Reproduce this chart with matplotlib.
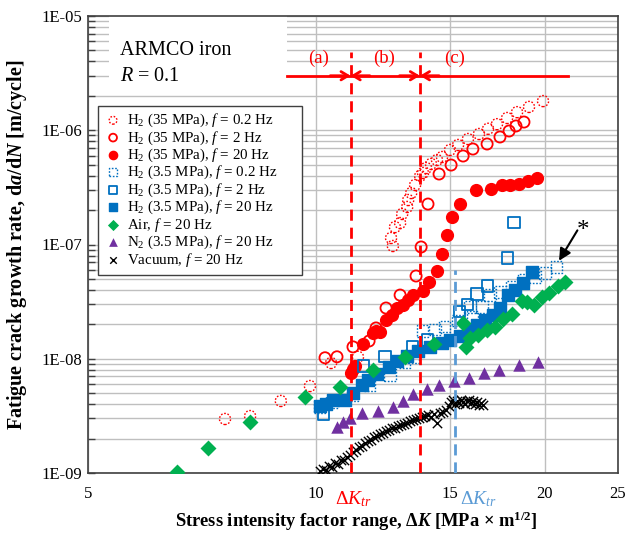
import matplotlib
matplotlib.use("Agg")
import matplotlib.pyplot as plt
from matplotlib.ticker import FixedLocator, NullLocator, FuncFormatter, LogLocator
from matplotlib.patches import Rectangle
import numpy as np

plt.rcParams['font.family'] = ['Liberation Serif', 'DejaVu Serif']
plt.rcParams['mathtext.fontset'] = 'custom'
plt.rcParams['mathtext.rm'] = 'Liberation Serif'
plt.rcParams['mathtext.it'] = 'Liberation Serif:italic'
plt.rcParams['mathtext.bf'] = 'Liberation Serif:bold'
plt.rcParams['mathtext.bfit'] = 'Liberation Serif:italic:bold'

# H2 35 MPa
h2_35_f02_dk = [7.58, 8.18, 8.98, 9.81, 10.46, 11.35, 12.55, 12.62, 12.70, 12.90, 12.98, 13.18, 13.22, 13.34, 13.50,
                13.71, 13.83, 13.96, 14.17, 14.43, 14.65, 15.01, 15.38, 15.85, 16.39, 16.85, 17.31, 17.85, 18.40, 19.08, 19.91]
h2_35_f02_rate = [2.97e-9, 3.15e-9, 4.27e-9, 5.77e-9, 9.18e-9, 1.04e-8, 1.14e-7, 9.70e-8, 1.42e-7, 1.54e-7, 1.85e-7,
                  2.13e-7, 2.45e-7, 2.82e-7, 3.32e-7, 3.98e-7, 4.23e-7, 4.67e-7, 5.07e-7, 5.49e-7, 5.83e-7, 6.72e-7,
                  7.43e-7, 8.38e-7, 9.27e-7, 1.03e-6, 1.13e-6, 1.28e-6, 1.44e-6, 1.60e-6, 1.80e-6]

h2_35_f2_dk = [10.27, 10.65, 11.18, 11.74, 11.99, 12.36, 12.90, 13.54, 13.75, 14.04, 14.52, 15.06, 15.62, 16.09,
               16.80, 17.47, 17.96, 18.34, 18.79]
h2_35_f2_rate = [1.02e-8, 1.04e-8, 1.27e-8, 1.43e-8, 1.86e-8, 2.78e-8, 3.61e-8, 5.30e-8, 9.51e-8, 2.26e-7, 4.14e-7,
                 4.96e-7, 5.95e-7, 6.85e-7, 7.58e-7, 8.73e-7, 9.85e-7, 1.09e-6, 1.18e-6]

h2_35_f20_dk = [11.11, 11.18, 11.25, 11.53, 11.88, 11.99, 12.14, 12.36, 12.58, 12.78, 13.01, 13.22, 13.42, 13.83,
                14.08, 14.43, 14.65, 14.87, 15.10, 15.47, 16.24, 17.00, 17.58, 18.01, 18.51, 19.02, 19.55]
h2_35_f20_rate = [7.50e-9, 8.13e-9, 8.64e-9, 1.35e-8, 1.68e-8, 1.75e-8, 1.71e-8, 2.18e-8, 2.42e-8, 2.78e-8, 2.95e-8,
                  3.27e-8, 3.61e-8, 3.92e-8, 4.70e-8, 5.86e-8, 8.26e-8, 1.21e-7, 1.74e-7, 2.26e-7, 3.00e-7, 3.06e-7,
                  3.32e-7, 3.32e-7, 3.39e-7, 3.60e-7, 3.82e-7]

# H2 3.5 MPa
h2_3p5_f02_dk = [10.11, 10.49, 11.15, 11.77, 12.51, 13.09, 13.42, 13.79, 14.34, 14.78, 15.38, 15.95, 16.09, 16.54,
                 16.95, 17.47, 18.12, 18.74, 19.43, 20.03, 20.72]
h2_3p5_f02_rate = [3.78e-9, 4.18e-9, 4.82e-9, 5.89e-9, 7.21e-9, 9.37e-9, 1.02e-8, 1.75e-8, 1.79e-8, 1.90e-8, 2.18e-8,
                   2.84e-8, 2.32e-8, 2.84e-8, 3.61e-8, 3.84e-8, 4.25e-8, 4.94e-8, 5.19e-8, 5.63e-8, 6.35e-8]

h2_3p5_f2_dk = [10.21, 11.53, 12.32, 13.38, 14.00, 15.47, 15.81, 16.29, 16.80, 17.85, 18.23]
h2_3p5_f2_rate = [3.28e-9, 8.64e-9, 1.04e-8, 1.27e-8, 1.46e-8, 2.57e-8, 3.01e-8, 3.69e-8, 4.33e-8, 7.62e-8, 1.57e-7]

h2_3p5_f20_dk = [10.11, 10.30, 10.52, 10.91, 11.18, 11.49, 11.70, 12.03, 12.47, 12.78, 13.18, 13.62, 14.13, 14.65,
                 15.01, 15.47, 15.95, 16.29, 16.69, 17.11, 17.47, 17.90, 18.29, 18.74, 19.25]
h2_3p5_f20_rate = [3.86e-9, 4.02e-9, 4.36e-9, 4.36e-9, 5.01e-9, 5.89e-9, 6.52e-9, 7.35e-9, 8.47e-9, 9.55e-9, 1.06e-8,
                   1.17e-8, 1.27e-8, 1.37e-8, 1.46e-8, 1.58e-8, 1.79e-8, 1.97e-8, 2.18e-8, 2.42e-8, 2.78e-8, 3.61e-8,
                   4.00e-8, 4.61e-8, 5.74e-8]

air_dk = [6.55, 7.20, 8.18, 9.66, 10.75, 11.88, 13.09, 14.30, 15.62, 15.76, 15.95, 16.34, 16.80, 17.21, 17.63, 18.12,
          18.68, 18.97, 19.37, 19.85, 20.28, 20.84, 21.29]
air_rate = [1.02e-9, 1.66e-9, 2.79e-9, 4.63e-9, 5.66e-9, 7.97e-9, 1.04e-8, 1.35e-8, 2.06e-8, 1.27e-8, 1.52e-8,
            1.61e-8, 1.79e-8, 1.90e-8, 2.23e-8, 2.46e-8, 3.20e-8, 3.14e-8, 2.95e-8, 3.47e-8, 3.77e-8, 4.33e-8, 4.70e-8]

n2_dk = [10.65, 10.85, 11.08, 11.49, 12.06, 12.62, 13.01, 13.42, 14.00, 14.52, 15.19, 15.90, 16.64, 17.42, 18.51, 19.61]
n2_rate = [2.53e-9, 2.79e-9, 3.03e-9, 3.35e-9, 3.49e-9, 3.78e-9, 4.27e-9, 4.91e-9, 5.43e-9, 5.89e-9, 6.38e-9,
           6.79e-9, 7.50e-9, 8.0e-9, 8.82e-9, 9.37e-9]

vac_dk = [10.11, 10.21, 10.30, 10.39, 10.49, 10.58, 10.68, 10.78, 10.88, 10.98, 11.08, 11.18, 11.28, 11.39, 11.49,
          11.60, 11.70, 11.81, 11.92, 12.03, 12.14, 12.25, 12.36, 12.47, 12.58, 12.70, 12.82, 12.94, 13.05, 13.18,
          13.29, 13.42, 13.54, 13.66, 13.79, 13.91, 14.04, 14.17, 14.30, 14.43, 14.56, 14.69, 14.83, 14.96, 15.06,
          15.15, 15.24, 15.33, 15.43, 15.52, 15.62, 15.71, 15.81, 15.90, 16.00, 16.09, 16.19, 16.29, 16.39, 16.49, 16.59]
vac_rate = [1.04e-9, 1.08e-9, 1.06e-9, 1.15e-9, 1.13e-9, 1.22e-9, 1.20e-9, 1.30e-9, 1.30e-9, 1.38e-9, 1.44e-9,
            1.53e-9, 1.59e-9, 1.69e-9, 1.72e-9, 1.83e-9, 1.91e-9, 1.95e-9, 2.07e-9, 2.11e-9, 2.19e-9, 2.24e-9,
            2.33e-9, 2.38e-9, 2.48e-9, 2.48e-9, 2.58e-9, 2.63e-9, 2.69e-9, 2.74e-9, 2.85e-9, 2.91e-9, 2.97e-9,
            3.03e-9, 3.09e-9, 3.15e-9, 3.22e-9, 3.09e-9, 3.28e-9, 2.74e-9, 3.35e-9, 3.42e-9, 3.56e-9, 3.86e-9,
            4.18e-9, 4.36e-9, 4.02e-9, 4.27e-9, 4.10e-9, 4.36e-9, 4.18e-9, 4.02e-9, 4.27e-9, 4.36e-9, 4.10e-9,
            4.27e-9, 4.02e-9, 4.18e-9, 3.94e-9, 4.10e-9, 3.94e-9]

# transition values and region arrow
dk_tr_35 = 11.1
dk_b_end = 13.7
dk_tr_3p5 = 15.24

RED = '#FF0000'
BLUE = '#0070C0'
GREEN = '#00B050'
PURPLE = '#7030A0'
LBLUE = '#5B9BD5'

fig = plt.figure(figsize=(6.3, 5.35), dpi=100)
ax = fig.add_axes([88 / 630, 1 - 473 / 535, 530 / 630, 457 / 535])
ax.set_xscale('log')
ax.set_yscale('log')
ax.set_xlim(5, 25)
ax.set_ylim(1e-9, 1e-5)

ms = 64
ax.scatter(h2_35_f02_dk, h2_35_f02_rate, s=ms, marker='o', facecolors='none', edgecolors=RED,
           linewidths=1.0, linestyles=(0, (1.2, 1.2)), label=r'H$_2$ (35 MPa), $f$ = 0.2 Hz', zorder=3)
ax.scatter(h2_35_f2_dk, h2_35_f2_rate, s=ms, marker='o', facecolors='none', edgecolors=RED,
           linewidths=1.3, label=r'H$_2$ (35 MPa), $f$ = 2 Hz', zorder=3)
ax.scatter(h2_35_f20_dk, h2_35_f20_rate, s=ms + 8, marker='o', color=RED,
           label=r'H$_2$ (35 MPa), $f$ = 20 Hz', zorder=3)
ax.scatter(h2_3p5_f02_dk, h2_3p5_f02_rate, s=ms, marker='s', facecolors='none', edgecolors=BLUE,
           linewidths=1.0, linestyles=(0, (1.2, 1.2)), label=r'H$_2$ (3.5 MPa), $f$ = 0.2 Hz', zorder=3)
ax.scatter(h2_3p5_f2_dk, h2_3p5_f2_rate, s=ms, marker='s', facecolors='none', edgecolors=BLUE,
           linewidths=1.3, label=r'H$_2$ (3.5 MPa), $f$ = 2 Hz', zorder=3)
ax.scatter(h2_3p5_f20_dk, h2_3p5_f20_rate, s=ms + 8, marker='s', color=BLUE,
           label=r'H$_2$ (3.5 MPa), $f$ = 20 Hz', zorder=3)
ax.scatter(air_dk, air_rate, s=66, marker='D', color=GREEN, linewidths=0,
           label=r'Air, $f$ = 20 Hz', zorder=3)
ax.scatter(n2_dk, n2_rate, s=80, marker='^', color=PURPLE, linewidths=0,
           label=r'N$_2$ (3.5 MPa), $f$ = 20 Hz', zorder=3)
ax.scatter(vac_dk, vac_rate, s=45, marker='x', color='black', linewidths=1.0,
           label=r'Vacuum, $f$ = 20 Hz', zorder=3)

# axes styling
for sp in ax.spines.values():
    sp.set_color('#404040')
    sp.set_linewidth(1.2)
ax.xaxis.set_major_locator(FixedLocator([5, 10, 15, 20, 25]))
ax.xaxis.set_minor_locator(NullLocator())
ax.xaxis.set_major_formatter(FuncFormatter(lambda v, p: f'{v:g}'))
ax.yaxis.set_major_locator(LogLocator(base=10, numticks=10))
ax.yaxis.set_minor_locator(LogLocator(base=10, subs=np.arange(2, 10), numticks=10))
ax.yaxis.set_major_formatter(FuncFormatter(lambda v, p: f'1E{int(round(np.log10(v))):+03d}'))
ax.tick_params(axis='x', length=0, pad=9, labelsize=12)
ax.tick_params(axis='y', which='both', direction='in', length=5, width=1, color='#404040', labelsize=12, pad=4)
ax.grid(True, axis='x', which='major', color='#BFBFBF', lw=1)
ax.grid(True, axis='y', which='both', color='#BFBFBF', lw=1)
ax.set_axisbelow(True)

ax.set_xlabel(r'Stress intensity factor range, Δ$\mathbfit{K}$ [MPa × m$^{\mathbf{1/2}}$]',
              fontsize=13.3, fontweight='bold')
ax.xaxis.set_label_coords(0.506, -0.08)
ax.set_ylabel(r'Fatigue crack growth rate, d$\mathbfit{a}$/d$\mathbfit{N}$ [m/cycle]',
              fontsize=14.5, fontweight='bold')
ax.yaxis.set_label_coords(-0.112, 0.5)

# material box
ax.add_patch(Rectangle((0.04, 0.836), 0.336, 0.164, transform=ax.transAxes, facecolor='white',
                       edgecolor='none', zorder=2))
ax.text(0.06, 0.925, 'ARMCO iron', transform=ax.transAxes, fontsize=14.5, va='center', zorder=4)
ax.text(0.06, 0.868, r'$R$ = 0.1', transform=ax.transAxes, fontsize=14.5, va='center', zorder=4)

# regime boundaries
ax.plot([dk_tr_35, dk_tr_35], [1e-9, 4.8e-6], color=RED, lw=2, ls=(0, (4, 2.5)), zorder=4)
ax.plot([dk_b_end, dk_b_end], [1e-9, 4.8e-6], color=RED, lw=2, ls=(0, (4, 2.5)), zorder=4)
ax.plot([dk_tr_3p5, dk_tr_3p5], [1e-9, 6.0e-8], color=LBLUE, lw=2, ls=(0, (4, 2.5)), zorder=4)

y_arr = 3.0e-6
ax.plot([9.15, 21.5], [y_arr, y_arr], color=RED, lw=2, zorder=4)
for xb in (dk_tr_35, dk_b_end):
    for side in (0.94, 1.06):
        ax.annotate('', xy=(xb, y_arr), xytext=(xb * side, y_arr),
                    arrowprops=dict(arrowstyle='->,head_length=0.5,head_width=0.3', color=RED, lw=2,
                                    shrinkA=0, shrinkB=0), zorder=5)
for lbl, xl in (('(a)', 10.08), ('(b)', 12.29), ('(c)', 15.24)):
    ax.text(xl, 4.3e-6, lbl, color=RED, fontsize=13.5, ha='center', va='center', zorder=5)

ax.text(11.2, -0.035, r'Δ$K_{tr}$', color=RED, fontsize=14, ha='center', va='top',
        transform=ax.get_xaxis_transform())
ax.text(15.45, -0.035, r'Δ$K_{tr}$', color=LBLUE, fontsize=14, ha='left', va='top',
        transform=ax.get_xaxis_transform())

# flagged specimen
ax.text(22.45, 1.32e-7, '*', fontsize=18, ha='center', va='center', zorder=5)
ax.annotate('', xy=(20.9, 7.2e-8), xytext=(22.1, 1.33e-7),
            arrowprops=dict(arrowstyle='-|>,head_length=0.6,head_width=0.3', color='black', lw=1.5,
                            mutation_scale=12, shrinkA=0, shrinkB=0), zorder=5)

leg = ax.legend(loc='upper left', bbox_to_anchor=(0.019, 0.431, 0.385, 0.372), mode='expand',
                borderaxespad=0, fontsize=10.8, frameon=True, fancybox=False, edgecolor='#404040',
                framealpha=1, handletextpad=0.3, labelspacing=0.0, handlelength=1.2, markerscale=0.7,
                borderpad=0.4)
leg.get_frame().set_linewidth(1.0)
leg.set_zorder(6)

fig.savefig('out.png', dpi=100)
